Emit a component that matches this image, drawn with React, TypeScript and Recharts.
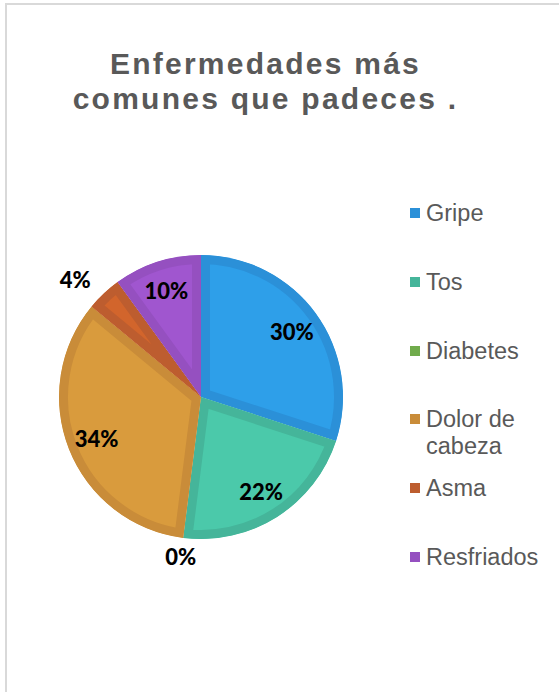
import { Legend, Pie, PieChart, Sector } from "recharts";

const categories = ["Gripe", "Tos", "Diabetes", "Dolor de cabeza", "Asma", "Resfriados"];
const percents = [30, 22, 0, 34, 4, 10];
const fills = ["#2e9fe9", "#4bc9aa", "#76b550", "#d99b3d", "#d2652c", "#a056cf"];
const borders = ["#2b90d8", "#45b59a", "#70ab4c", "#c98c39", "#bd5d2f", "#9550c0"];

const data = categories.map((name, i) => ({
  name,
  value: percents[i],
  fill: fills[i],
  border: borders[i],
}));

const RADIAN = Math.PI / 180;

// slice with an inner border: stroke clipped to the sector itself
function Slice(props: any) {
  const { cx, cy, innerRadius, outerRadius, startAngle, endAngle, payload } = props;
  const idx = categories.indexOf(payload?.name ?? props.name);
  const id = `slice-clip-${idx}`;
  const geo = { cx, cy, innerRadius, outerRadius, startAngle, endAngle };
  return (
    <g>
      <defs>
        <clipPath id={id}>
          <Sector {...geo} />
        </clipPath>
      </defs>
      <Sector
        {...geo}
        fill={payload?.fill ?? props.fill}
        stroke={payload?.border}
        strokeWidth={18}
        clipPath={`url(#${id})`}
      />
    </g>
  );
}

function SliceLabel(props: any) {
  const { cx, cy, midAngle, outerRadius, value } = props;
  const small = value < 5;
  const r = small ? outerRadius + 19 : outerRadius * 0.79;
  const cos = Math.cos(-midAngle * RADIAN);
  const x = cx + r * cos;
  const y = cy + r * Math.sin(-midAngle * RADIAN);
  let anchor: "middle" | "start" | "end" = "middle";
  if (small && Math.abs(cos) > 0.3) anchor = cos < 0 ? "end" : "start";
  return (
    <text
      x={x}
      y={y}
      textAnchor={anchor}
      dominantBaseline="central"
      fill="#000"
      fontFamily="Lato, 'DejaVu Sans', sans-serif"
      fontWeight={900}
      fontSize={22}
    >
      {`${value}%`}
    </text>
  );
}

function LegendBox() {
  return (
    <div style={{ fontFamily: "'Liberation Sans', Arial, sans-serif", fontSize: 23.5, color: "#595959" }}>
      {categories.map((c, i) => (
        <div key={c} style={{ height: 68.8, display: "flex", alignItems: "flex-start" }}>
          <span
            style={{
              display: "inline-block",
              width: 10,
              height: 10,
              background: borders[i],
              marginTop: 8,
              marginRight: 6,
              flex: "none",
            }}
          />
          <span style={{ width: 125, lineHeight: "26.5px" }}>{c}</span>
        </div>
      ))}
    </div>
  );
}

export default function App() {
  return (
    <div style={{ position: "relative", width: 559, height: 692, background: "#fff", overflow: "hidden" }}>
      <style>{"body{margin:0}"}</style>
      <div
        style={{
          position: "absolute",
          left: 5,
          top: 3,
          right: -10,
          bottom: -10,
          borderTop: "2px solid #d9d9d9",
          borderLeft: "2px solid #d9d9d9",
        }}
      />
      <div
        style={{
          position: "absolute",
          left: 0,
          top: 46,
          width: 559,
          paddingRight: 28,
          boxSizing: "border-box",
          textAlign: "center",
          fontFamily: "'Liberation Sans', Arial, sans-serif",
          fontWeight: 700,
          fontSize: 30,
          lineHeight: "35px",
          letterSpacing: 2.25,
          color: "#595959",
        }}
      >
        Enfermedades más
        <br />
        comunes que padeces .
      </div>
      <PieChart width={559} height={692} margin={{ top: 0, right: 0, bottom: 0, left: 0 }}>
        <Pie
          data={data}
          dataKey="value"
          nameKey="name"
          cx={201}
          cy={397}
          outerRadius={142}
          startAngle={90}
          endAngle={-270}
          stroke="none"
          shape={Slice}
          label={SliceLabel}
          labelLine={false}
          isAnimationActive={false}
        />
        <Legend
          layout="vertical"
          align="right"
          verticalAlign="top"
          content={() => <LegendBox />}
          wrapperStyle={{ position: "absolute", left: 410, top: 200, width: 149 }}
        />
      </PieChart>
    </div>
  );
}
